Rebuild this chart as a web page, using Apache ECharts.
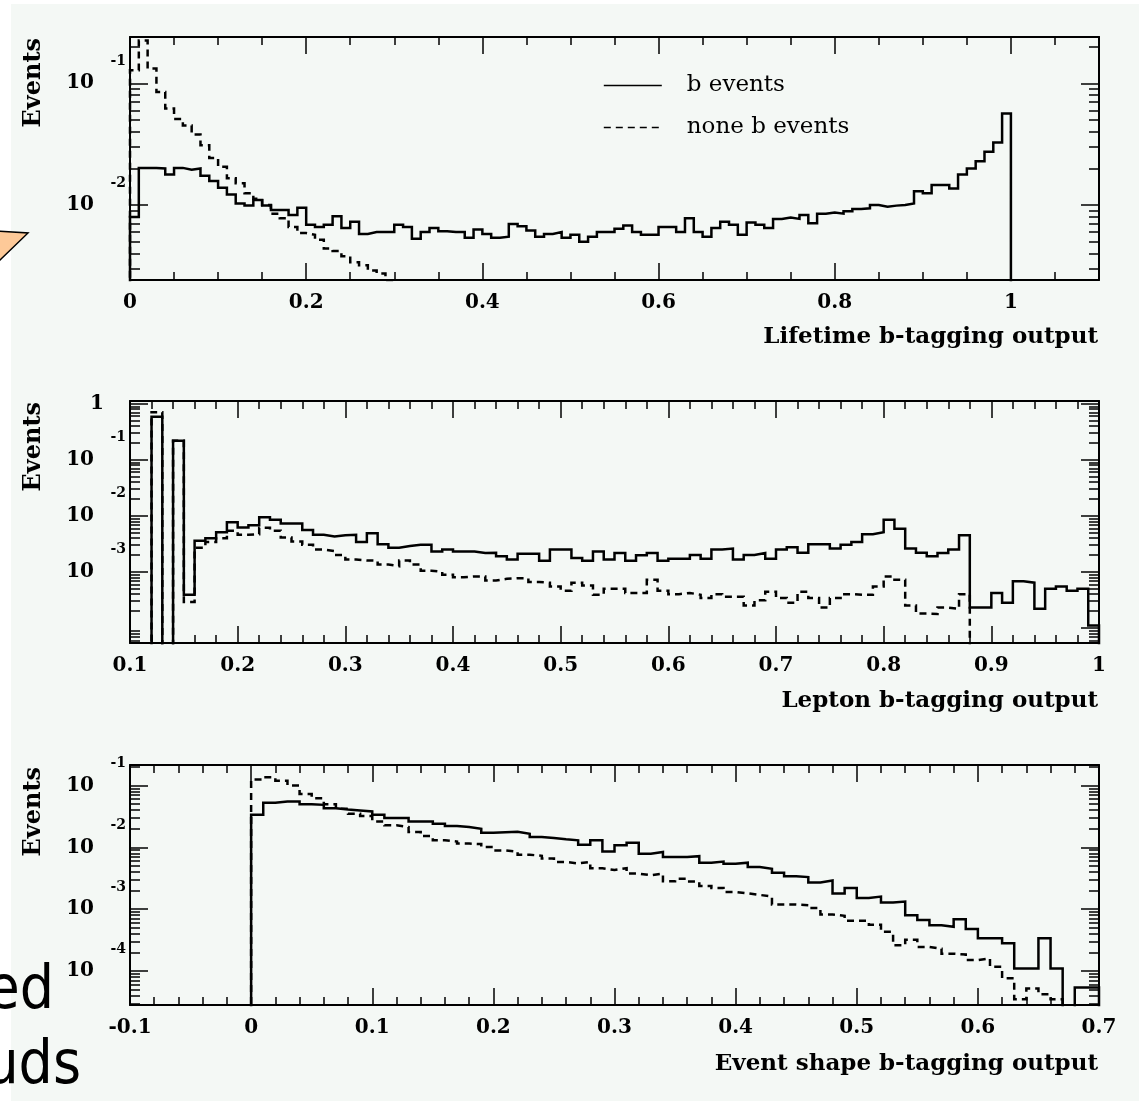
<!DOCTYPE html>
<html><head><meta charset="utf-8">
<script src="https://cdn.jsdelivr.net/npm/echarts@6/dist/echarts.min.js"></script>
<style>html,body{margin:0;padding:0;background:#fff}#c{width:1141px;height:1101px}</style>
</head><body><div id="c"></div>
<script>
// ---------------- DATA ----------------
const BIN_WIDTH = 0.01;
const seriesNames = ['b events', 'none b events'];
const axisTitles = ['Lifetime b-tagging output', 'Lepton b-tagging output', 'Event shape b-tagging output'];
const yTitle = 'Events';

// Panel 1: Lifetime b-tagging output (bins of 0.01 starting at 0)
const lifetimeStart = 0;
const lifetimeB = [
  0.0080, 0.0202, 0.0202, 0.0200, 0.0178, 0.0202, 0.0195, 0.0200, 0.0174, 0.0158,
  0.0139, 0.0122, 0.0103, 0.0099, 0.0110, 0.0099, 0.0091, 0.0091, 0.0083, 0.0095,
  0.0069, 0.0066, 0.0069, 0.0081, 0.0065, 0.0073, 0.0058, 0.0060, 0.0060, 0.0060,
  0.0069, 0.0066, 0.0053, 0.0060, 0.0065, 0.0061, 0.0060, 0.0060, 0.0054, 0.0063,
  0.0058, 0.0054, 0.0055, 0.0070, 0.0067, 0.0062, 0.0055, 0.0058, 0.0060, 0.0054,
  0.0057, 0.0050, 0.0055, 0.0060, 0.0060, 0.0064, 0.0068, 0.0060, 0.0057, 0.0057,
  0.0066, 0.0066, 0.0060, 0.0078, 0.0060, 0.0055, 0.0065, 0.0073, 0.0069, 0.0057,
  0.0072, 0.0069, 0.0065, 0.0077, 0.0079, 0.0077, 0.0083, 0.0071, 0.0085, 0.0087,
  0.0085, 0.0089, 0.0093, 0.0094, 0.0100, 0.0097, 0.0099, 0.0100, 0.0103, 0.0130,
  0.0125, 0.0146, 0.0146, 0.0137, 0.0178, 0.0200, 0.0229, 0.0274, 0.0327, 0.0564
];
const lifetimeNonB = [
  0.128, 0.225, 0.132, 0.085, 0.062, 0.051, 0.045, 0.038, 0.031, 0.0244,
  0.0206, 0.0166, 0.0151, 0.0125, 0.0113, 0.0100, 0.0085, 0.0078, 0.0066, 0.0059,
  0.0057, 0.0052, 0.0044, 0.0042, 0.0038, 0.0034, 0.0032, 0.0029, 0.00275, 0.0024
];

// Panel 2: Lepton b-tagging output (bins of 0.01 starting at 0.10)
const leptonStart = 0.10;
const leptonB = [
  0, 0, 0.59, 0, 0.218, 3.9e-4, 3.6e-3, 4.0e-3, 5.1e-3, 7.7e-3,
  6.2e-3, 6.8e-3, 9.4e-3, 8.5e-3, 7.3e-3, 7.3e-3, 5.6e-3, 4.6e-3, 4.3e-3, 4.5e-3,
  4.6e-3, 3.4e-3, 4.9e-3, 3.1e-3, 2.7e-3, 2.9e-3, 3.05e-3, 3.05e-3, 2.3e-3, 2.5e-3,
  2.3e-3, 2.3e-3, 2.17e-3, 2.2e-3, 1.9e-3, 1.66e-3, 2.1e-3, 2.1e-3, 1.58e-3, 2.5e-3,
  2.5e-3, 1.77e-3, 1.58e-3, 2.3e-3, 1.66e-3, 2.17e-3, 1.58e-3, 1.97e-3, 2.17e-3, 1.58e-3,
  1.72e-3, 1.72e-3, 2.0e-3, 1.72e-3, 2.5e-3, 2.6e-3, 1.66e-3, 2.0e-3, 2.17e-3, 1.72e-3,
  2.5e-3, 2.74e-3, 2.2e-3, 3.1e-3, 3.1e-3, 2.6e-3, 3.05e-3, 3.4e-3, 4.7e-3, 5.1e-3,
  8.5e-3, 5.9e-3, 2.6e-3, 2.2e-3, 1.9e-3, 2.17e-3, 2.5e-3, 4.5e-3, 2.3e-4, 2.3e-4,
  4.2e-4, 2.8e-4, 6.8e-4, 6.4e-4, 2.2e-4, 5.0e-4, 5.5e-4, 4.6e-4, 5.0e-4, 1.1e-4
];
const leptonNonB = [
  0, 0, 0.71, 0, 0.218, 2.9e-4, 2.7e-3, 3.4e-3, 4.0e-3, 5.4e-3,
  4.6e-3, 4.7e-3, 6.1e-3, 5.4e-3, 4.1e-3, 3.5e-3, 3.05e-3, 2.5e-3, 2.35e-3, 2.0e-3,
  1.66e-3, 1.6e-3, 1.58e-3, 1.35e-3, 1.26e-3, 1.6e-3, 1.35e-3, 1.05e-3, 1.0e-3, 8.9e-4,
  8.0e-4, 8.3e-4, 8.3e-4, 7.0e-4, 7.5e-4, 7.7e-4, 7.7e-4, 6.6e-4, 6.4e-4, 5.5e-4,
  4.6e-4, 6.4e-4, 5.7e-4, 3.9e-4, 5.0e-4, 5.0e-4, 4.2e-4, 4.2e-4, 7.2e-4, 4.6e-4,
  4.0e-4, 4.2e-4, 3.9e-4, 3.4e-4, 4.0e-4, 3.6e-4, 3.6e-4, 2.5e-4, 3.1e-4, 4.4e-4,
  3.4e-4, 2.8e-4, 4.4e-4, 3.4e-4, 2.3e-4, 3.4e-4, 4.0e-4, 3.9e-4, 3.9e-4, 5.5e-4,
  8.3e-4, 7.2e-4, 2.5e-4, 1.8e-4, 1.77e-4, 2.3e-4, 2.2e-4, 4.0e-4
];

// Panel 3: Event shape b-tagging output (bins of 0.01 starting at 0)
const shapeStart = 0;
const shapeB = [
  0.0336, 0.0525, 0.055, 0.055, 0.050, 0.0487, 0.043, 0.041, 0.0395, 0.038,
  0.0336, 0.0297, 0.0297, 0.0263, 0.0263, 0.0241, 0.0221, 0.0213, 0.020, 0.0172,
  0.0175, 0.0178, 0.0166, 0.0147, 0.0142, 0.0135, 0.013, 0.011, 0.013, 0.0086,
  0.0108, 0.0119, 0.0079, 0.0084, 0.007, 0.007, 0.0072, 0.00565, 0.0059, 0.00545,
  0.00565, 0.0048, 0.0045, 0.0039, 0.0034, 0.0033, 0.0027, 0.0029, 0.0018, 0.0022,
  0.00152, 0.0016, 0.00128, 0.00133, 0.0008, 0.00067, 0.00055, 0.00052, 0.00069, 0.00048,
  0.00034, 0.00034, 0.00028, 0.00011, 0.00011, 0.00034, 0.00011, 0, 0.000054, 0.000054
];
const shapeNonB = [
  0.125, 0.136, 0.12, 0.10, 0.073, 0.062, 0.050, 0.042, 0.0349, 0.032,
  0.0263, 0.0227, 0.0213, 0.0177, 0.0152, 0.013, 0.0124, 0.0115, 0.0113, 0.0101,
  0.0089, 0.0085, 0.0076, 0.0073, 0.0066, 0.0058, 0.0055, 0.0058, 0.0046, 0.0043,
  0.0046, 0.00376, 0.00355, 0.00376, 0.00283, 0.0031, 0.0028, 0.00238, 0.0022, 0.0019,
  0.0018, 0.0017, 0.0016, 0.00119, 0.00119, 0.00116, 0.00104, 0.00082, 0.00078, 0.00065,
  0.00065, 0.00056, 0.00043, 0.00026, 0.00032, 0.000245, 0.00023, 0.00019, 0.000185, 0.00015,
  0.00016, 0.000117, 0.000076, 0.000035, 0.000052, 0.000042, 0.000035
];

// Tick labels
const lifetimeXTicks = [0, 0.2, 0.4, 0.6, 0.8, 1];
const leptonXTicks = [0.1, 0.2, 0.3, 0.4, 0.5, 0.6, 0.7, 0.8, 0.9, 1];
const shapeXTicks = [-0.1, 0, 0.1, 0.2, 0.3, 0.4, 0.5, 0.6, 0.7];
const lifetimeYTicks = [0.01, 0.1];
const leptonYTicks = [1e-4, 1e-3, 1e-2, 1e-1, 1];
const shapeYTicks = [1e-4, 1e-3, 1e-2, 1e-1];

// ---------------- LAYOUT ----------------
const FLOOR = 1e-9; // empty bins (log axis cannot show 0)
const SERIF = "'DejaVu Serif', 'Liberation Serif', serif";
const panels = [
  { top: 37, height: 243, xMin: 0, xMax: 1.1, xMinorStep: 0.05, yMin: Math.pow(10, -2.615), yMax: Math.pow(10, -0.62),
    xTicks: lifetimeXTicks, yTicks: lifetimeYTicks, start: lifetimeStart, b: lifetimeB, nb: lifetimeNonB,
    titleY: 337, eventsTop: 38 },
  { top: 401, height: 242, xMin: 0.1, xMax: 1.0, xMinorStep: 0.02, yMin: Math.pow(10, -4.27), yMax: Math.pow(10, 0.05),
    xTicks: leptonXTicks, yTicks: leptonYTicks, start: leptonStart, b: leptonB, nb: leptonNonB,
    titleY: 701, eventsTop: 402 },
  { top: 765, height: 240, xMin: -0.1, xMax: 0.7, xMinorStep: 0.02, yMin: Math.pow(10, -4.55), yMax: Math.pow(10, -0.668),
    xTicks: shapeXTicks, yTicks: shapeYTicks, start: shapeStart, b: shapeB, nb: shapeNonB,
    titleY: 1064, eventsTop: 767 }
];
const GRID_LEFT = 130, GRID_WIDTH = 969;

function r6(v) { return Math.round(v * 1e6) / 1e6; }
function minorX(p) {
  const out = [];
  const n = Math.round((p.xMax - p.xMin) / p.xMinorStep);
  for (let i = 0; i <= n; i++) {
    const v = r6(p.xMin + i * p.xMinorStep);
    if (!p.xTicks.some(t => Math.abs(t - v) < 1e-6)) out.push(v);
  }
  return out;
}
function minorY(p) {
  const out = [];
  const d0 = Math.floor(Math.log10(p.yMin)), d1 = Math.ceil(Math.log10(p.yMax));
  for (let d = d0; d <= d1; d++) {
    for (let m = 2; m <= 9; m++) {
      const v = Number((m * Math.pow(10, d)).toPrecision(6));
      if (v >= p.yMin && v <= p.yMax) out.push(v);
    }
  }
  return out;
}
function histPoints(start, values) {
  const pts = [[start, FLOOR]];
  for (let i = 0; i < values.length; i++) {
    pts.push([r6(start + i * BIN_WIDTH), values[i] > 0 ? values[i] : FLOOR]);
  }
  const end = r6(start + values.length * BIN_WIDTH);
  const last = values[values.length - 1];
  pts.push([end, last > 0 ? last : FLOOR]);
  pts.push([end, FLOOR]);
  return pts;
}

const BLACK = '#000';
const xAxes = [], yAxes = [], grids = [], series = [], graphics = [];

graphics.push({ type: 'rect', shape: { x: 11, y: 4, width: 1128, height: 1097 }, style: { fill: '#f4f8f5' }, z: -100, silent: true });

panels.forEach((p, i) => {
  grids.push({ left: GRID_LEFT, width: GRID_WIDTH, top: p.top, height: p.height, containLabel: false, outerBoundsMode: 'none' });
  const xMinor = minorX(p), yMinor = minorY(p);
  const xBase = {
    type: 'value', gridIndex: i, min: p.xMin, max: p.xMax,
    splitLine: { show: false }, axisLabel: { show: false }
  };
  const lineOn = { show: true, onZero: false, lineStyle: { color: BLACK, width: 2 } };
  const lineOff = { show: false, onZero: false };
  const tick = (vals, len) => ({ show: true, inside: true, length: len, customValues: vals, lineStyle: { color: BLACK, width: 1.5 } });
  xAxes.push(Object.assign({}, xBase, {
    position: 'bottom', axisLine: lineOn, axisTick: tick(p.xTicks, 17),
    axisLabel: { show: true, customValues: p.xTicks, margin: 13, color: BLACK, fontFamily: SERIF, fontWeight: 'bold', fontSize: 20,
      formatter: v => String(Math.round(v * 1000) / 1000) }
  }));
  xAxes.push(Object.assign({}, xBase, { position: 'bottom', axisLine: lineOff, axisTick: tick(xMinor, 8) }));
  xAxes.push(Object.assign({}, xBase, { position: 'top', axisLine: lineOn, axisTick: tick(p.xTicks, 17) }));
  xAxes.push(Object.assign({}, xBase, { position: 'top', axisLine: lineOff, axisTick: tick(xMinor, 8) }));

  const yBase = {
    type: 'log', logBase: 10, gridIndex: i, min: p.yMin, max: p.yMax,
    splitLine: { show: false }, axisLabel: { show: false }
  };
  yAxes.push(Object.assign({}, yBase, {
    position: 'left', axisLine: lineOn, axisTick: tick(p.yTicks, 18),
    axisLabel: {
      show: true, customValues: p.yTicks, margin: 4, color: BLACK, align: 'right',
      formatter: v => {
        const e = Math.round(Math.log10(v));
        if (e === 0) return '{one|1}';
        return '{sup|' + e + '}\n{base|10}\n{pad| }';
      },
      rich: {
        sup: { fontFamily: SERIF, fontWeight: 'bold', fontSize: 14, lineHeight: 22, color: BLACK, align: 'right' },
        base: { fontFamily: SERIF, fontWeight: 'bold', fontSize: 20, lineHeight: 22, color: BLACK, padding: [0, 32, 0, 0], align: 'right' },
        pad: { fontSize: 14, lineHeight: 22 },
        one: { fontFamily: SERIF, fontWeight: 'bold', fontSize: 20, lineHeight: 22, color: BLACK, padding: [0, 22, 0, 0] }
      }
    }
  }));
  yAxes.push(Object.assign({}, yBase, { position: 'left', axisLine: lineOff, axisTick: tick(yMinor, 10) }));
  yAxes.push(Object.assign({}, yBase, { position: 'right', axisLine: lineOn, axisTick: tick(p.yTicks, 18) }));
  yAxes.push(Object.assign({}, yBase, { position: 'right', axisLine: lineOff, axisTick: tick(yMinor, 10) }));

  const common = { type: 'line', xAxisIndex: 4 * i, yAxisIndex: 4 * i, step: 'end', symbol: 'none', showSymbol: false, clip: true,
    animation: false, silent: true, z: 3, color: BLACK, itemStyle: { color: BLACK, opacity: 0 } };
  series.push(Object.assign({}, common, { name: seriesNames[0], data: histPoints(p.start, p.b),
    lineStyle: { color: BLACK, width: 2.5, type: 'solid', join: 'miter' } }));
  series.push(Object.assign({}, common, { name: seriesNames[1], data: histPoints(p.start, p.nb),
    lineStyle: { color: BLACK, width: 2.5, type: [7, 5], join: 'miter' } }));

  graphics.push({ type: 'text', x: 1098, y: p.titleY, z: 10, silent: true,
    style: { text: axisTitles[i], fill: BLACK, font: "bold 23px " + SERIF, align: 'right', verticalAlign: 'middle' } });
  graphics.push({ type: 'text', x: 34, y: p.eventsTop, rotation: Math.PI / 2, z: 10, silent: true,
    style: { text: yTitle, fill: BLACK, font: "bold 24px " + SERIF, align: 'right', verticalAlign: 'middle' } });
});

// decorations from the surrounding slide (clipped callout and text)
graphics.push({ type: 'polygon', shape: { points: [[-2, 231], [28, 233], [-2, 262]] }, z: 20, silent: true,
  style: { fill: '#fdc998', stroke: '#000', lineWidth: 1.5 } });
graphics.push({ type: 'text', x: 54, y: 962, z: 20, silent: true,
  style: { text: 'ed', fill: BLACK, font: "60px 'Liberation Sans Narrow', 'DejaVu Sans Condensed', sans-serif", align: 'right', verticalAlign: 'alphabetic' } });
graphics.push({ type: 'text', x: 81, y: 1037, z: 20, silent: true,
  style: { text: 'uds', fill: BLACK, font: "60px 'Liberation Sans Narrow', 'DejaVu Sans Condensed', sans-serif", align: 'right', verticalAlign: 'alphabetic' } });

const option = {
  backgroundColor: '#ffffff',
  animation: false,
  color: [BLACK, BLACK],
  grid: grids,
  xAxis: xAxes,
  yAxis: yAxes,
  legend: {
    data: seriesNames, orient: 'vertical', left: 598, top: 69, itemWidth: 58, itemHeight: 14, itemGap: 19,
    selectedMode: false,
    itemStyle: { opacity: 0 },
    textStyle: { fontFamily: SERIF, fontSize: 23, color: BLACK, padding: [0, 0, 0, 20] },
    lineStyle: { width: 1.6 }
  },
  series: series,
  graphic: graphics
};
const chart = echarts.init(document.getElementById('c'), null, { renderer: 'canvas' });
chart.setOption(option);
</script></body></html>
